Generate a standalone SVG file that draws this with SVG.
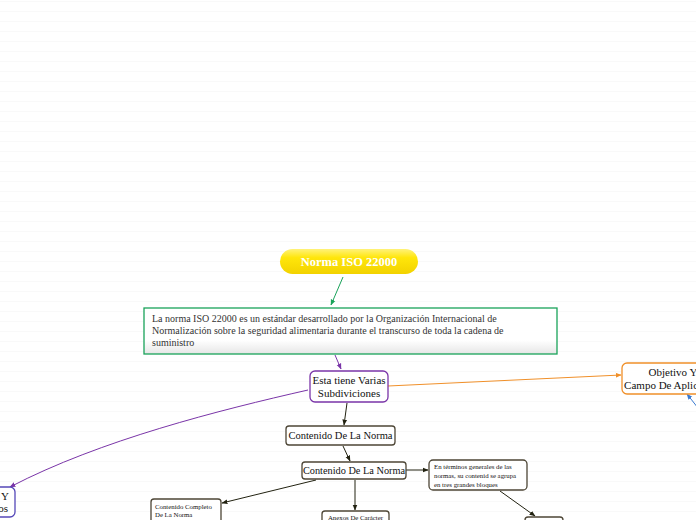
<svg xmlns="http://www.w3.org/2000/svg" width="696" height="520" viewBox="0 0 696 520">
<defs>
<pattern id="bg" width="10" height="10" patternUnits="userSpaceOnUse">
<rect width="10" height="10" fill="#ffffff"/>
<rect y="1" width="10" height="1" fill="#f9f9f9"/>
</pattern>
<linearGradient id="yel" x1="0" y1="0" x2="0" y2="1">
<stop offset="0" stop-color="#fff27a"/>
<stop offset="0.35" stop-color="#ffe60a"/>
<stop offset="1" stop-color="#f2d200"/>
</linearGradient>
<linearGradient id="box" x1="0" y1="0" x2="0" y2="1">
<stop offset="0" stop-color="#ffffff"/>
<stop offset="0.7" stop-color="#ffffff"/>
<stop offset="1" stop-color="#e6e6e6"/>
</linearGradient>
<marker id="aG" viewBox="0 0 10 10" refX="9" refY="5" markerWidth="6" markerHeight="6" orient="auto"><path d="M0,1 L10,5 L0,9 z" fill="#1aa35a"/></marker>
<marker id="aP" viewBox="0 0 10 10" refX="9" refY="5" markerWidth="6" markerHeight="6" orient="auto"><path d="M0,1 L10,5 L0,9 z" fill="#7a35a8"/></marker>
<marker id="aO" viewBox="0 0 10 10" refX="9" refY="5" markerWidth="6" markerHeight="6" orient="auto"><path d="M0,1 L10,5 L0,9 z" fill="#f0902a"/></marker>
<marker id="aB" viewBox="0 0 10 10" refX="9" refY="5" markerWidth="6" markerHeight="6" orient="auto"><path d="M0,1 L10,5 L0,9 z" fill="#3a7ad0"/></marker>
<marker id="aD" viewBox="0 0 10 10" refX="9" refY="5" markerWidth="6" markerHeight="6" orient="auto"><path d="M0,1 L10,5 L0,9 z" fill="#222211"/></marker>
</defs>
<style>
.t{font-family:"Liberation Serif","Times New Roman",serif;fill:#111}
.n{fill:#fff;stroke-width:1.3}
.d{stroke:#4d4636}
.c{fill:none;stroke-width:1}
</style>
<rect width="696" height="520" fill="url(#bg)"/>

<g id="connectors">
<path class="c" d="M343,277 L331,305" stroke="#1aa35a" marker-end="url(#aG)"/>
<path class="c" d="M335,355 L341,369" stroke="#7a35a8" marker-end="url(#aP)"/>
<path class="c" d="M388,386 L621,375" stroke="#f0902a" marker-end="url(#aO)"/>
<path class="c" d="M698,408 L687,394" stroke="#3a7ad0" marker-end="url(#aB)"/>
<path class="c" d="M308,390 C220,410 100,440 10,487" stroke="#7a35a8" marker-end="url(#aP)"/>
<path class="c" d="M347,403 L344,425" stroke="#222211" marker-end="url(#aD)"/>
<path class="c" d="M343,446 L350,461" stroke="#222211" marker-end="url(#aD)"/>
<path class="c" d="M406,470 L428,470" stroke="#222211" marker-end="url(#aD)"/>
<path class="c" d="M500,491 L535,516" stroke="#222211" marker-end="url(#aD)"/>
<path class="c" d="M355,480 L355,510" stroke="#222211" marker-end="url(#aD)"/>
<path class="c" d="M316,480 L222,503" stroke="#222211" marker-end="url(#aD)"/>
</g>

<g id="norma">
<rect x="280" y="249" width="138" height="25" rx="12.5" fill="url(#yel)"/>
<text class="t" x="349" y="266" text-anchor="middle" font-size="12.5" font-weight="bold" style="fill:#ffffff">Norma ISO 22000</text>
</g>

<g id="definicion">
<rect x="144" y="308" width="413" height="46" fill="url(#box)" stroke="#1aa35a" stroke-width="1.3"/>
<text class="t" font-size="10" style="fill:#333">
<tspan x="152" y="322">La norma ISO 22000 es un estándar desarrollado por la Organización Internacional de</tspan>
<tspan x="152" y="334">Normalización sobre la seguridad alimentaria durante el transcurso de toda la cadena de</tspan>
<tspan x="152" y="346">suministro</tspan>
</text>
</g>

<g id="subdiviciones">
<rect class="n" x="310" y="371" width="78" height="31" rx="5" stroke="#7a35a8"/>
<text class="t" font-size="11" text-anchor="middle"><tspan x="349" y="384">Esta tiene Varias</tspan><tspan x="349" y="397">Subdiviciones</tspan></text>
</g>

<g id="objetivo">
<rect class="n" x="622" y="363" width="104" height="31" rx="5" stroke="#f0902a"/>
<text class="t" font-size="11" text-anchor="middle"><tspan x="673" y="376">Objetivo Y</tspan><tspan x="673" y="389">Campo De Aplicación</tspan></text>
</g>

<g id="izquierda">
<rect class="n" x="-60" y="487" width="75" height="30" rx="5" stroke="#5548b8"/>
<text class="t" font-size="11" text-anchor="end"><tspan x="9" y="500">Y</tspan><tspan x="8" y="512">os</tspan></text>
</g>

<g id="contenido1">
<rect class="n d" x="286" y="426" width="109" height="19" rx="3"/>
<text class="t" x="340.5" y="439" font-size="10.5" text-anchor="middle">Contenido De La Norma</text>
</g>

<g id="contenido2">
<rect class="n d" x="302" y="462" width="104" height="17" rx="3"/>
<text class="t" x="354" y="474" font-size="10.3" text-anchor="middle">Contenido De La Norma</text>
</g>

<g id="terminos">
<rect class="n d" x="429" y="460" width="98" height="30" rx="4"/>
<text class="t" font-size="6.8"><tspan x="434" y="469">En términos generales de las</tspan><tspan x="434" y="478">normas, su contenid se agrupa</tspan><tspan x="434" y="487">en tres grandes bloques</tspan></text>
</g>

<g id="bloque">
<rect class="n d" x="525" y="517" width="38" height="20" rx="3"/>
</g>

<g id="anexos">
<rect class="n d" x="322" y="511" width="67" height="20" rx="3"/>
<text class="t" x="355.5" y="520" font-size="6.8" text-anchor="middle">Anexos De Carácter</text>
</g>

<g id="completo">
<rect class="n d" x="151" y="499" width="70" height="30" rx="3"/>
<text class="t" font-size="6.8"><tspan x="155" y="509">Contenido Completo</tspan><tspan x="155" y="517">De La Norma</tspan></text>
</g>
</svg>
